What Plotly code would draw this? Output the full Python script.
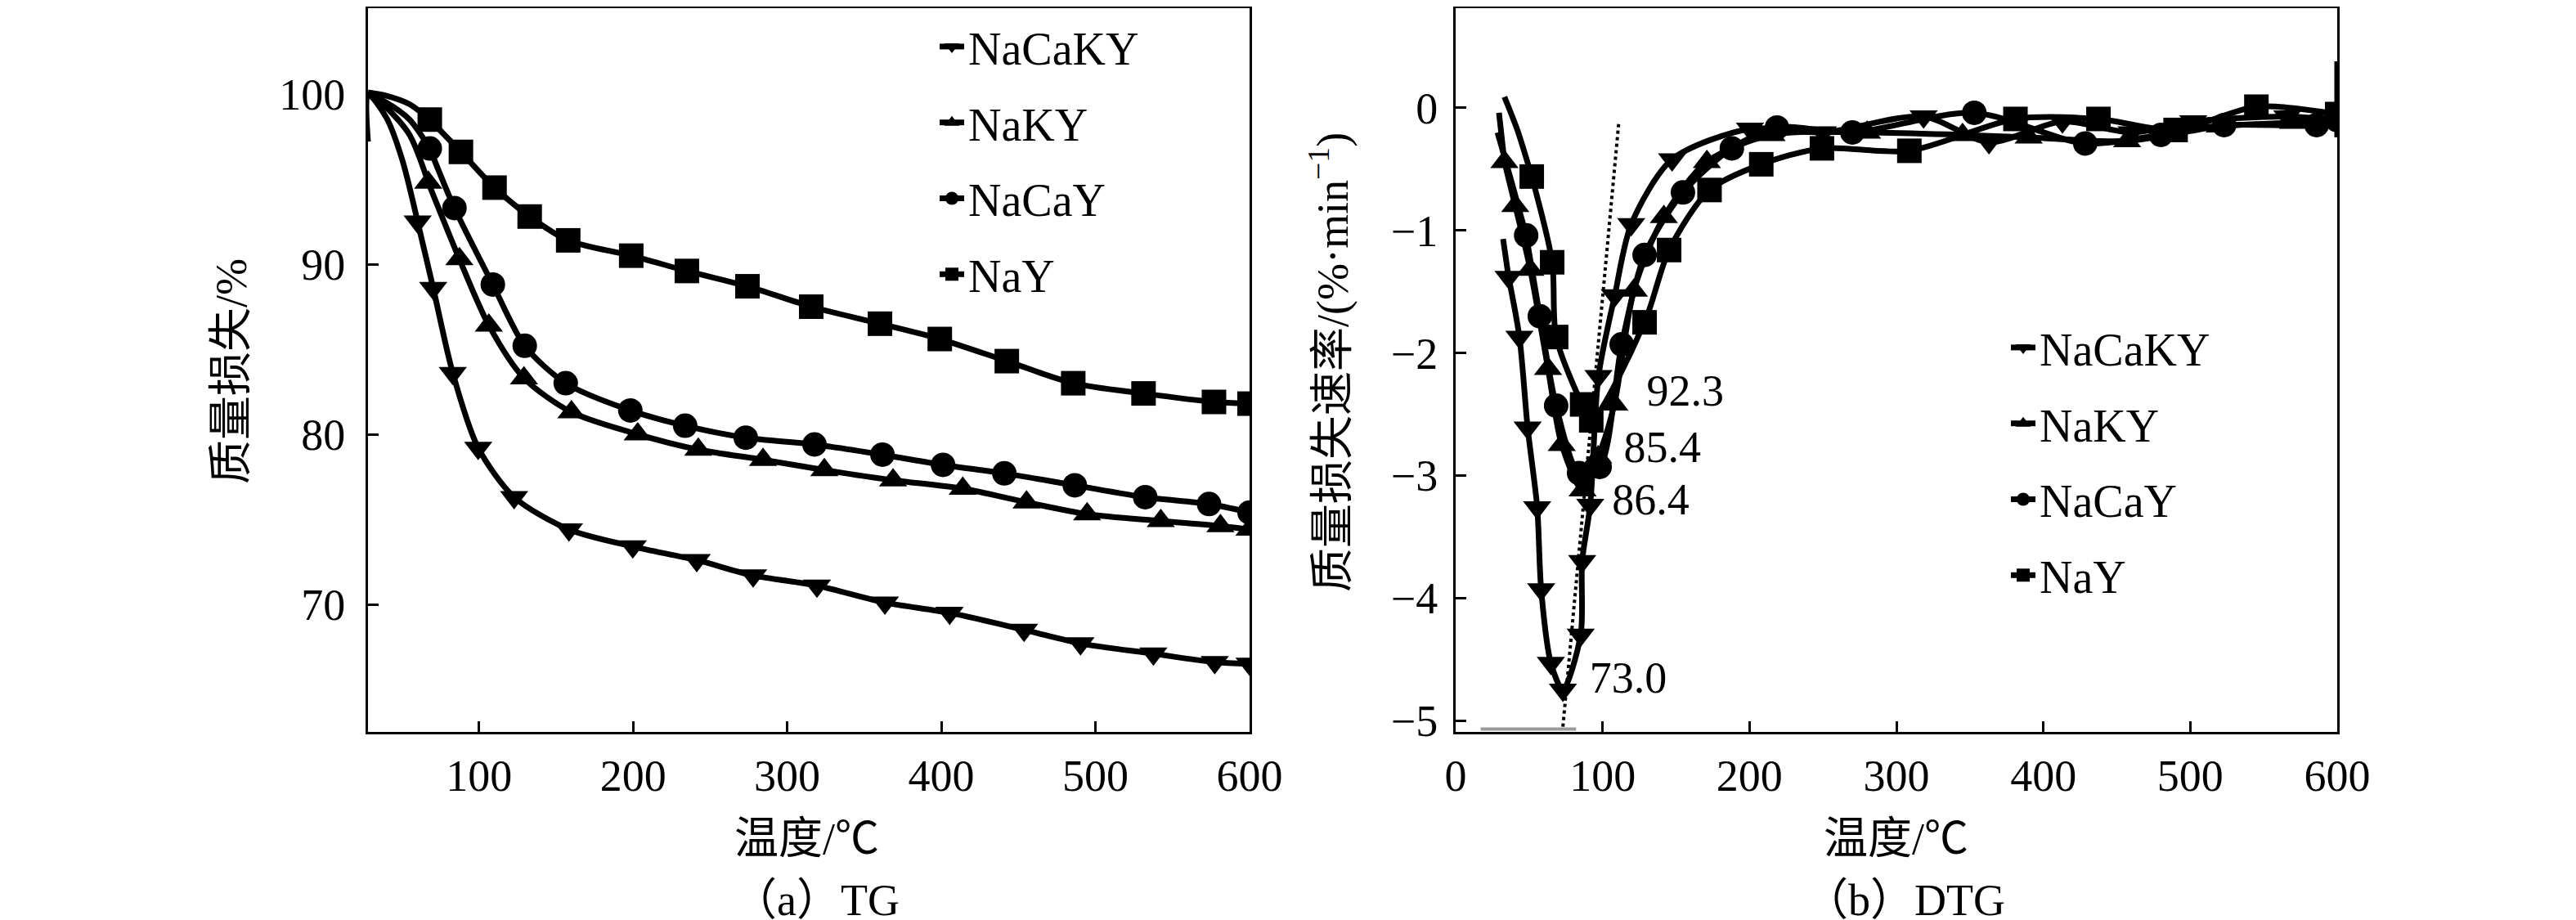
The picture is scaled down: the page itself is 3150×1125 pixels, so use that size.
import plotly.graph_objects as go
from plotly.subplots import make_subplots

# ---------------- TG data (temperature °C, mass %) ----------------
series_names = ["NaCaKY", "NaKY", "NaCaY", "NaY"]
series_symbols = ["triangle-down", "triangle-up", "circle", "square"]

tg_lead_x = {
    "NaCaKY": [28.0, 28.0, 40.0, 50.0, 60.2],
    "NaKY": [28.0, 40.0, 55.0, 67.1],
    "NaCaY": [28.0, 40.0, 55.0, 68.1],
    "NaY": [28.0, 40.0, 55.0, 68.1],
}
tg_lead_y = {
    "NaCaKY": [97.2, 100.0, 98.6, 96.2, 92.5],
    "NaKY": [100.0, 99.2, 97.6, 94.8],
    "NaCaY": [100.0, 99.5, 98.5, 96.8],
    "NaY": [100.1, 99.9, 99.4, 98.5],
}
tg_x = {
    "NaCaKY": [60.2, 70.3, 83.0, 99.5, 122.8, 158.4, 199.8, 241.3, 277.9, 319.3,
               363.4, 405.4, 453.7, 490.3, 537.6, 577.4, 600.0],
    "NaKY": [67.1, 87.3, 106.4, 129.2, 160.0, 203.0, 242.3, 284.3, 324.1, 368.7,
             413.9, 455.3, 494.6, 542.4, 581.1, 600.0],
    "NaCaY": [68.1, 84.1, 109.0, 129.7, 156.3, 198.2, 233.8, 273.1, 317.7, 361.8,
              401.1, 440.9, 486.6, 532.3, 573.7, 600.0],
    "NaY": [68.1, 88.3, 110.1, 132.9, 157.9, 198.8, 234.9, 274.2, 315.6, 360.2,
            399.0, 442.5, 485.6, 531.2, 576.9, 600.0],
}
tg_y = {
    "NaCaKY": [92.5, 88.6, 83.6, 79.2, 76.3, 74.4, 73.4, 72.6, 71.7, 71.1,
               70.1, 69.5, 68.5, 67.7, 67.1, 66.6, 66.5],
    "NaKY": [94.8, 90.3, 86.4, 83.3, 81.3, 80.0, 79.1, 78.5, 77.9, 77.3,
             76.8, 76.0, 75.3, 74.9, 74.6, 74.4],
    "NaCaY": [96.8, 93.3, 88.8, 85.2, 83.0, 81.4, 80.5, 79.8, 79.4, 78.8,
              78.2, 77.7, 77.0, 76.3, 75.9, 75.4],
    "NaY": [98.5, 96.6, 94.5, 92.8, 91.4, 90.5, 89.6, 88.7, 87.5, 86.5,
            85.6, 84.3, 83.0, 82.4, 81.9, 81.8],
}

# ---------------- DTG data (temperature °C, %/min) ----------------
dtg_lead_x = {
    "NaCaKY": [32.3, 36.0],
    "NaKY": [29.5, 33.2],
    "NaCaY": [28.5, 38.0, 48.0],
    "NaY": [33.2, 42.0, 51.8],
}
dtg_lead_y = {
    "NaCaKY": [-1.07, -1.38],
    "NaKY": [-0.04, -0.44],
    "NaCaY": [-0.20, -0.60, -1.04],
    "NaY": [0.09, -0.18, -0.56],
}
dtg_x = {
    "NaCaKY": [36.0, 43.4, 49.0, 55.5, 58.2, 64.8, 73.0, 85.1, 86.1, 91.6, 97.2,
               108.3, 119.5, 147.3, 200.3, 250.0, 318.5, 363.0, 413.0, 460.0,
               502.0, 566.0, 600.0],
    "NaKY": [33.2, 40.6, 50.8, 62.9, 72.2, 86.4, 97.0, 108.0, 121.3, 141.7, 171.0,
             215.0, 280.0, 345.0, 390.0, 457.0, 520.0, 570.0, 600.0],
    "NaCaY": [48.0, 57.3, 68.4, 84.0, 98.0, 113.0, 128.6, 154.7, 188.0, 218.7,
              270.0, 353.0, 428.5, 480.0, 523.0, 586.0, 600.0],
    "NaY": [51.8, 65.7, 68.4, 86.1, 92.3, 128.6, 145.3, 172.8, 208.0, 249.3,
            308.8, 381.0, 437.5, 490.0, 545.0, 600.0],
}
dtg_y = {
    "NaCaKY": [-1.38, -1.87, -2.61, -3.26, -3.93, -4.53, -4.75, -4.30, -3.70,
               -3.24, -2.19, -1.53, -0.95, -0.42, -0.17, -0.20, -0.07, -0.28,
               -0.11, -0.20, -0.11, -0.07, -0.10],
    "NaKY": [-0.44, -0.80, -1.32, -2.13, -2.75, -3.12, -2.85, -2.42, -1.49, -0.89,
             -0.44, -0.22, -0.20, -0.22, -0.24, -0.27, -0.15, -0.12, -0.10],
    "NaCaY": [-1.04, -1.70, -2.43, -2.98, -2.93, -1.93, -1.20, -0.69, -0.33,
              -0.16, -0.20, -0.04, -0.29, -0.22, -0.14, -0.14, -0.10],
    "NaY": [-0.56, -1.26, -1.87, -2.42, -2.55, -1.75, -1.16, -0.67, -0.46, -0.33,
            -0.35, -0.09, -0.09, -0.18, 0.01, -0.05],
}
spike_x = [600.0, 600.0]
spike_y = [0.38, -0.24]
tangent_x = [73.0, 111.1]
tangent_y = [-5.05, -0.11]
baseline_x = [17.0, 82.0]
baseline_y = [-5.07, -5.07]

peak_labels = ["92.3", "85.4", "86.4", "73.0"]
peak_label_x = [156.3, 140.7, 132.8, 117.5]
peak_label_y = [-2.34, -2.80, -3.23, -4.68]

tg_xticks = [100, 200, 300, 400, 500, 600]
tg_yticks = [70, 80, 90, 100]
dtg_xticks = [0, 100, 200, 300, 400, 500, 600]
dtg_yticks = [0, -1, -2, -3, -4, -5]

# ---------------- figure ----------------
FONT = "Liberation Serif, Times New Roman, Noto Sans CJK SC, serif"
W, H = 3150, 1125
LW = 7
MS = 30

fig = make_subplots(rows=1, cols=2)

for i, name in enumerate(series_names):
    sym = series_symbols[i]
    # TG
    fig.add_trace(go.Scatter(x=tg_lead_x[name], y=tg_lead_y[name], mode="lines",
                             line=dict(color="black", width=LW, shape="spline", smoothing=0.8),
                             showlegend=False, hoverinfo="skip"), row=1, col=1)
    fig.add_trace(go.Scatter(x=tg_x[name], y=tg_y[name], mode="lines+markers", name=name,
                             line=dict(color="black", width=LW, shape="spline", smoothing=0.8),
                             marker=dict(symbol=sym, size=MS, color="black"),
                             legend="legend", legendgroup="a" + name), row=1, col=1)
    # DTG
    fig.add_trace(go.Scatter(x=dtg_lead_x[name], y=dtg_lead_y[name], mode="lines",
                             line=dict(color="black", width=LW, shape="spline", smoothing=0.8),
                             showlegend=False, hoverinfo="skip"), row=1, col=2)
    fig.add_trace(go.Scatter(x=dtg_x[name], y=dtg_y[name], mode="lines+markers", name=name,
                             line=dict(color="black", width=LW, shape="spline", smoothing=0.8),
                             marker=dict(symbol=sym, size=MS, color="black"),
                             legend="legend2", legendgroup="b" + name), row=1, col=2)

fig.add_trace(go.Scatter(x=spike_x, y=spike_y, mode="lines",
                         line=dict(color="black", width=LW), showlegend=False), row=1, col=2)
fig.add_trace(go.Scatter(x=tangent_x, y=tangent_y, mode="lines",
                         line=dict(color="black", width=4, dash="dot"), showlegend=False), row=1, col=2)
fig.add_trace(go.Scatter(x=baseline_x, y=baseline_y, mode="lines",
                         line=dict(color="#9a9a9a", width=4), showlegend=False), row=1, col=2)
fig.add_trace(go.Scatter(x=peak_label_x, y=peak_label_y, mode="text", text=peak_labels,
                         textfont=dict(family=FONT, size=54, color="black"),
                         showlegend=False), row=1, col=2)

axis_common = dict(showgrid=False, zeroline=False, showline=True, linecolor="black",
                   linewidth=3, mirror=True, ticks="inside", ticklen=13, tickwidth=3,
                   tickcolor="black", tickfont=dict(family=FONT, size=54, color="black"))

TOP, BOT = 2, 887

fig.update_xaxes(axis_common)
fig.update_yaxes(axis_common)
fig.update_xaxes(range=[28, 600], tickvals=tg_xticks, domain=[442 / W, 1520 / W],
                 ticklabelstandoff=4, row=1, col=1)
fig.update_yaxes(range=[62.5, 105.05], tickvals=tg_yticks, ticklabelstandoff=14, row=1, col=1)
fig.update_xaxes(range=[0, 600], tickvals=dtg_xticks, domain=[1772 / W, 2850 / W],
                 ticklabelstandoff=4, row=1, col=2)
fig.update_yaxes(range=[-5.093, 0.814], tickvals=dtg_yticks, ticklabelstandoff=8, row=1, col=2)

def py(p):
    return (BOT - p) / (BOT - TOP)

ann = dict(xref="paper", yref="paper", showarrow=False, xanchor="center", yanchor="middle",
           font=dict(family=FONT, size=54, color="black"))
fig.add_annotation(ann, text="质量损失/%", x=275 / W, y=py(446), textangle=-90)
fig.add_annotation(ann, text="质量损失速率/(%·min<sup>−1</sup>)", x=1617 / W, y=py(435), textangle=-90)
fig.add_annotation(ann, text="温度/℃", x=978 / W, y=py(1018))
fig.add_annotation(ann, text="温度/℃", x=2310 / W, y=py(1018))
fig.add_annotation(ann, text="（a）TG", x=990 / W, y=py(1093))
fig.add_annotation(ann, text="（b）DTG", x=2321 / W, y=py(1093))

leg_common = dict(font=dict(family=FONT, size=56, color="black"), bgcolor="rgba(0,0,0,0)",
                  tracegroupgap=17, xanchor="left", yanchor="top")
fig.update_layout(
    width=W, height=H,
    margin=dict(l=0, r=0, t=TOP, b=H - BOT, autoexpand=False),
    paper_bgcolor="white", plot_bgcolor="white",
    legend=dict(leg_common, x=1136 / W, y=py(6)),
    legend2=dict(leg_common, x=2446 / W, y=py(374)),
)

fig.write_html("out.html")
